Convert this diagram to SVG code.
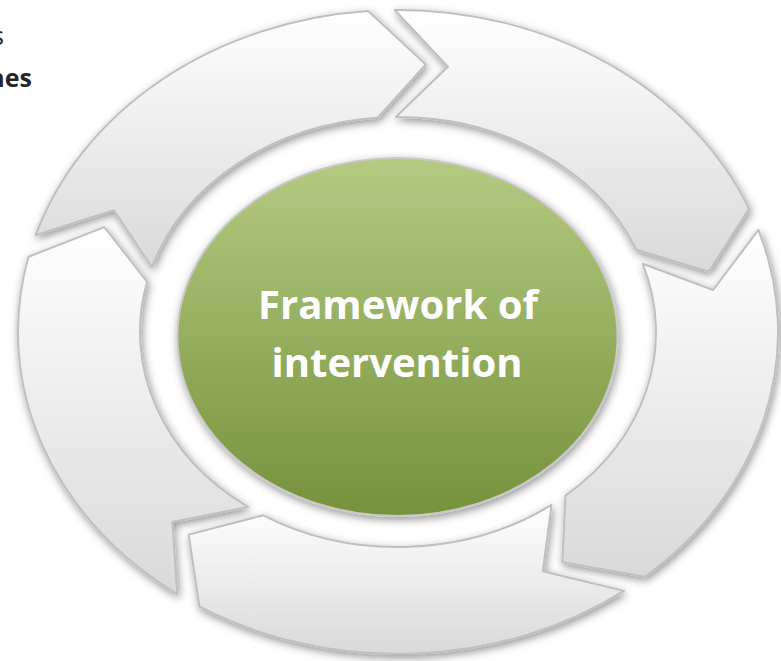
<svg xmlns="http://www.w3.org/2000/svg" width="781" height="661" viewBox="0 0 781 661">
<style>
.seg{fill:url(#segGrad);stroke:#bfbfbf;stroke-width:2;stroke-linejoin:round;filter:url(#sh)}
.ctr{fill:url(#greenGrad);stroke:#c8c8c8;stroke-width:2;filter:url(#sh)}
.lbl{font-family:"Open Sans","Liberation Sans",sans-serif;font-weight:700;font-size:40px;fill:#ffffff;text-anchor:middle}
.side{font-family:"Open Sans","Liberation Sans",sans-serif;font-size:25px;fill:#262626;text-anchor:end}
</style>
<defs>
<linearGradient id="segGrad" x1="0" y1="0" x2="0" y2="1">
<stop offset="0" stop-color="#ffffff"/>
<stop offset="1" stop-color="#d9d9d9"/>
</linearGradient>
<linearGradient id="greenGrad" x1="0" y1="0" x2="0" y2="1">
<stop offset="0" stop-color="#b4ca82"/>
<stop offset="1" stop-color="#76923c"/>
</linearGradient>
<filter id="sh" x="-15%" y="-15%" width="135%" height="135%">
<feDropShadow dx="1.5" dy="3" stdDeviation="4" flood-color="#000000" flood-opacity="0.42"/>
</filter>
</defs>
<rect width="781" height="661" fill="#ffffff"/>
<g id="side-text">
<text class="side" x="4" y="45" fill="#3a3a3a">s</text>
<text class="side" x="32" y="87" font-weight="700">nes</text>
</g>
<g id="connectors"></g>
<g id="seg-top-left">
<path class="seg" d="M35.6,235.2 A380,322 0 0 1 368.2,11.0 L425.8,64.5 L377.7,117.7 A258,215 0 0 0 151.9,267.3 L113.8,210.1 Z"/>
</g>
<g id="seg-top-right">
<path class="seg" d="M394.7,10.0 A380,322 0 0 1 749.1,208.8 L708.8,271.6 L636.4,249.7 A258,215 0 0 0 395.8,117.0 L447.9,66.8 Z"/>
</g>
<g id="seg-right">
<path class="seg" d="M758.4,229.8 A380,322 0 0 1 644.8,576.8 L562.3,562.2 L565.5,495.5 A258,215 0 0 0 642.7,263.8 L713.1,290.0 Z"/>
</g>
<g id="seg-bottom">
<path class="seg" d="M624.0,590.9 A380,322 0 0 1 199.4,606.5 L188.7,534.6 L263.2,515.3 A258,215 0 0 0 551.5,504.8 L542.8,571.2 Z"/>
</g>
<g id="seg-left">
<path class="seg" d="M177.3,594.1 A380,322 0 0 1 28.5,256.8 L104.4,227.1 L147.1,281.8 A258,215 0 0 0 248.2,507.0 L172.4,521.9 Z"/>
</g>
<g id="center">
<ellipse class="ctr" cx="397.5" cy="337" rx="220" ry="179"/>
<text class="lbl" x="398" y="319">Framework of</text>
<text class="lbl" x="397" y="377">intervention</text>
</g>
</svg>
